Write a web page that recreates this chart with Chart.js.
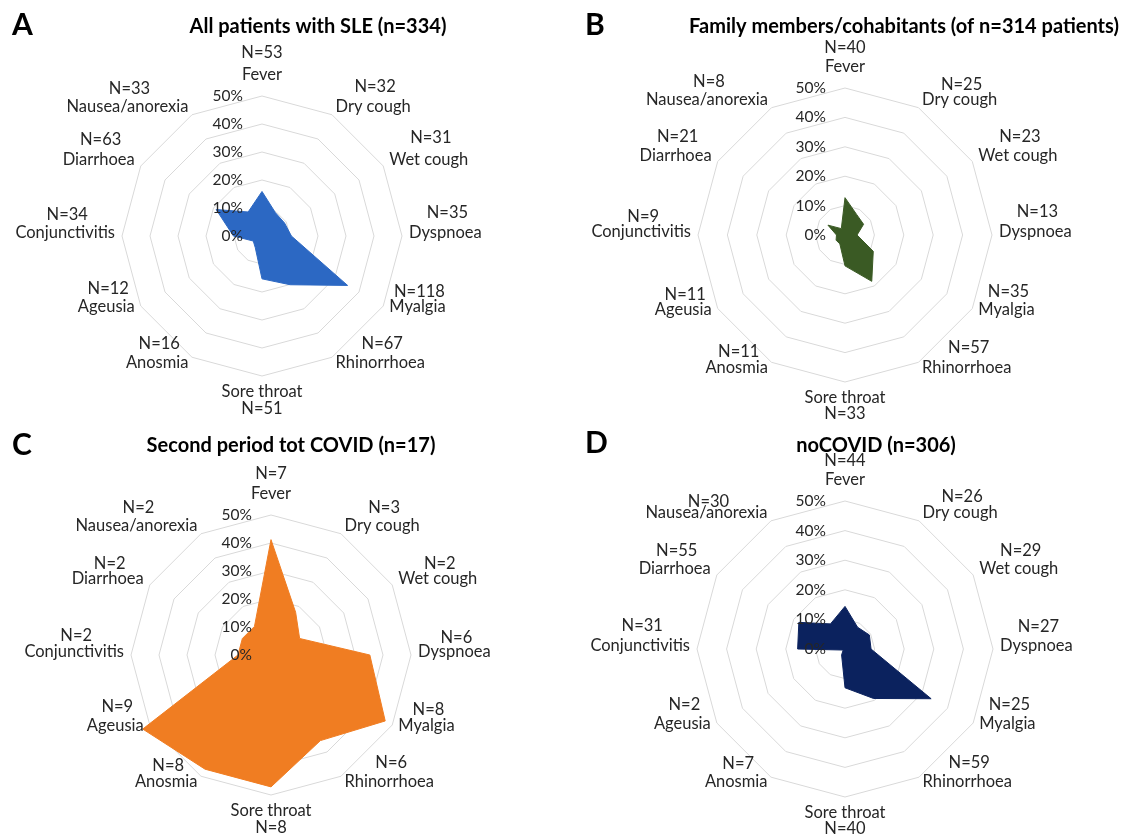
<!DOCTYPE html>
<html>
<head>
<meta charset="utf-8">
<script src="https://cdn.jsdelivr.net/npm/chart.js@4/dist/chart.umd.min.js"></script>
<style>
  html, body { margin: 0; padding: 0; background: #ffffff; }
  #wrap { position: relative; width: 1135px; height: 837px; overflow: hidden; }
  #wrap canvas { position: absolute; left: 0; top: 0; }
</style>
</head>
<body>
<div id="wrap">
  <canvas id="chartA" width="1135" height="837"></canvas>
  <canvas id="chartB" width="1135" height="837"></canvas>
  <canvas id="chartC" width="1135" height="837"></canvas>
  <canvas id="chartD" width="1135" height="837"></canvas>
</div>
<script>
// Symptom axes, clockwise from the top
const categories = ['Fever', 'Dry cough', 'Wet cough', 'Dyspnoea', 'Myalgia', 'Rhinorrhoea',
  'Sore throat', 'Anosmia', 'Ageusia', 'Conjunctivitis', 'Diarrhoea', 'Nausea/anorexia'];

// Radial axis ticks (%)
const tickValues = [0, 10, 20, 30, 40, 50];

// A: all patients with SLE (n=334)
const countsA = [53, 32, 31, 35, 118, 67, 51, 16, 12, 34, 63, 33];
const percentA = [15.9, 9.6, 9.3, 10.5, 35.3, 20.1, 15.3, 4.8, 3.6, 10.2, 18.9, 9.9];

// B: family members / cohabitants (of n=314 patients)
const countsB = [40, 25, 23, 13, 35, 57, 33, 11, 11, 9, 21, 8];
const percentB = [12.7, 8.0, 7.3, 4.1, 11.1, 18.2, 10.5, 3.5, 3.5, 2.9, 6.7, 2.5];

// C: second period tot COVID (n=17)
const countsC = [7, 3, 2, 6, 8, 6, 8, 8, 9, 2, 2, 2];
const percentC = [41.2, 17.6, 11.8, 35.3, 47.1, 35.3, 47.1, 47.1, 52.9, 11.8, 11.8, 11.8];

// D: noCOVID (n=306)
const countsD = [44, 26, 29, 27, 25, 59, 40, 7, 2, 31, 55, 30];
const percentD = [14.4, 8.5, 9.5, 8.8, 33.6, 19.3, 13.1, 2.3, 0.7, 16.0, 18.0, 9.8];

const panelLetters = ['A', 'B', 'C', 'D'];
const panelTitles = [
  'All patients with SLE (n=334)',
  'Family members/cohabitants (of n=314 patients)',
  'Second period tot COVID (n=17)',
  'noCOVID (n=306)'
];

// Layout of the four radar panels on the page.
// nGap: distance of each "N=" line from its category name.
const layouts = [
  { cx: 262, cy: 236, r: 140, letterX: 12, letterY: 25, titleX: 318, titleY: 27, color: '#2c68c3',
    nGap: [22, 20, 22, 20, 15, 19, 17, 19, 18, 18, 20, 18] },
  { cx: 845, cy: 235, r: 147, letterX: 585, letterY: 25, titleX: 904, titleY: 27, color: '#3a5a24',
    nGap: [19, 15, 19, 20, 18, 20, 16, 16, 15, 15, 19, 18] },
  { cx: 271, cy: 655, r: 140, letterX: 12, letterY: 445, titleX: 291, titleY: 446, color: '#f07d22',
    nGap: [20, 18, 15, 14, 16, 19, 17, 16, 19, 16, 15, 18] },
  { cx: 845, cy: 649, r: 148, letterX: 585, letterY: 443, titleX: 876, titleY: 446, color: '#0b225e',
    nGap: [19, 16, 18, 19, 19, 19, 16, 18, 19, 20, 18, 11] }
];

// vertical nudge of each category name relative to its outer-ring vertex
const nameDy = [-21, -8, -6, -3, 1, 5, 16, 5, 1, -3, -6, -8];

const LABEL_FONT = '16.5px Lato, "Open Sans", sans-serif';
const TICK_FONT = '15.5px Lato, "Open Sans", sans-serif';
const TITLE_FONT = 'bold 20px Lato, "Open Sans", sans-serif';
const LETTER_FONT = 'bold 30px Lato, "Open Sans", sans-serif';

function textPlugin(idx, counts) {
  const lay = layouts[idx];
  return {
    id: 'panelText' + idx,
    afterDatasetsDraw(chart) {
      const ctx = chart.ctx;
      const sc = chart.scales.r;
      ctx.save();

      // tick labels along the vertical axis, left of the centre
      ctx.font = TICK_FONT;
      ctx.fillStyle = '#262626';
      ctx.textAlign = 'right';
      ctx.textBaseline = 'middle';
      tickValues.forEach(v => {
        const d = sc.getDistanceFromCenterForValue(v);
        ctx.fillText(v + '%', sc.xCenter - 19, sc.yCenter - d);
      });

      // category names with their counts
      ctx.font = LABEL_FONT;
      const R = sc.drawingArea;
      categories.forEach((name, i) => {
        const p = sc.getPointPosition(i, R);
        const s = Math.cos(p.angle);   // horizontal component
        let x, align;
        if (Math.abs(s) < 1e-6) { x = p.x; align = 'center'; }
        else if (s > 0) { x = p.x + s * 7; align = 'left'; }
        else { x = p.x + s * 7; align = 'right'; }
        const y = p.y + nameDy[i];
        const w = ctx.measureText(name).width;
        ctx.textAlign = align;
        ctx.fillText(name, x, y);
        const mid = align === 'left' ? x + w / 2 : align === 'right' ? x - w / 2 : x;
        ctx.textAlign = 'center';
        const ny = i === 6 ? y + lay.nGap[i] : y - lay.nGap[i];
        ctx.fillText('N=' + counts[i], mid + (align === 'center' ? 0 : 2), ny);
      });

      // panel letter and title
      ctx.fillStyle = '#000000';
      ctx.font = LETTER_FONT;
      ctx.textAlign = 'left';
      ctx.fillText(panelLetters[idx], lay.letterX, lay.letterY);
      ctx.font = TITLE_FONT;
      ctx.textAlign = 'center';
      ctx.fillText(panelTitles[idx], lay.titleX, lay.titleY);
      ctx.restore();
    }
  };
}

function makeRadar(canvasId, idx, values, counts) {
  const lay = layouts[idx];
  return new Chart(document.getElementById(canvasId), {
    type: 'radar',
    data: {
      labels: categories,
      datasets: [{
        data: values,
        backgroundColor: lay.color,
        borderColor: lay.color,
        borderWidth: 1,
        pointRadius: 0,
        fill: 'origin',
        tension: 0
      }]
    },
    options: {
      responsive: false,
      animation: false,
      events: [],
      layout: { padding: 0 },
      plugins: { legend: { display: false }, tooltip: { enabled: false }, title: { display: false } },
      scales: {
        r: {
          min: 0,
          max: 50,
          ticks: { display: false, stepSize: 10 },
          pointLabels: { display: false },
          angleLines: { display: false },
          grid: { circular: false, color: '#d9d9d9', lineWidth: 1 },
          afterFit(scale) {
            scale.xCenter = lay.cx;
            scale.yCenter = lay.cy;
            scale.drawingArea = lay.r;
          }
        }
      }
    },
    plugins: [textPlugin(idx, counts)]
  });
}

makeRadar('chartA', 0, percentA, countsA);
makeRadar('chartB', 1, percentB, countsB);
makeRadar('chartC', 2, percentC, countsC);
makeRadar('chartD', 3, percentD, countsD);
</script>
</body>
</html>
